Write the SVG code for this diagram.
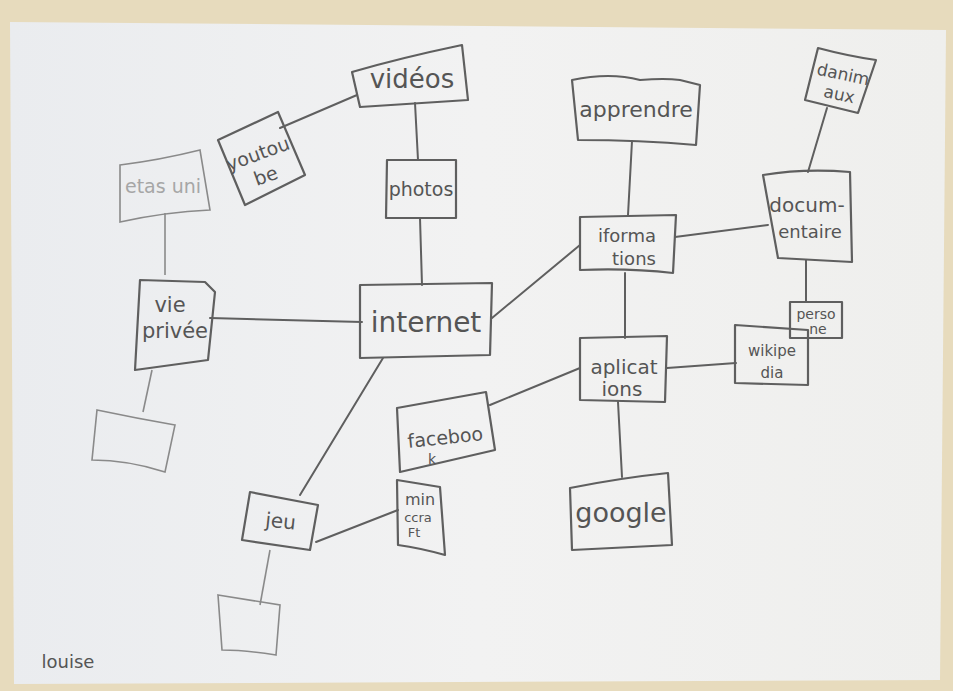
<svg xmlns="http://www.w3.org/2000/svg" width="953" height="691" viewBox="0 0 953 691">
<defs>
<linearGradient id="paper" x1="0" y1="0" x2="1" y2="0">
<stop offset="0" stop-color="#eaecef"/>
<stop offset="0.5" stop-color="#f2f2f2"/>
<stop offset="1" stop-color="#efefed"/>
</linearGradient>
<style>
.box{fill:none;stroke:#5f5f5f;stroke-width:2.2;stroke-linejoin:round}
.faint{fill:none;stroke:#8a8a8a;stroke-width:1.6}
.ln{fill:none;stroke:#5f5f5f;stroke-width:2;stroke-linecap:round}
.t{font-family:"DejaVu Sans",sans-serif;fill:#555;text-anchor:middle}
.tf{font-family:"DejaVu Sans",sans-serif;fill:#a6a6a6;text-anchor:middle}
</style>
</defs>
<rect width="953" height="691" fill="#e7dbbd"/>
<path d="M10,22 L946,30 L940,680 L14,684 Z" fill="url(#paper)"/>
<g id="connectors">
<path class="ln" d="M280,128 L357,95"/>
<path class="ln" d="M415,103 L418,160"/>
<path class="ln" d="M420,218 L422,285"/>
<path class="faint" d="M165,213 L165,275"/>
<path class="ln" d="M210,318 L362,322"/>
<path class="faint" d="M152,370 L143,412"/>
<path class="ln" d="M492,318 L580,245"/>
<path class="ln" d="M383,358 L300,495"/>
<path class="ln" d="M632,141 L628,215"/>
<path class="ln" d="M675,237 L768,225"/>
<path class="ln" d="M625,273 L625,338"/>
<path class="ln" d="M827,108 L808,172"/>
<path class="ln" d="M806,260 L806,302"/>
<path class="ln" d="M667,368 L736,363"/>
<path class="ln" d="M580,368 L490,405"/>
<path class="ln" d="M618,402 L622,477"/>
<path class="ln" d="M316,542 L398,510"/>
<path class="faint" d="M270,550 L260,605"/>
</g>
<g id="videos">
<path class="box" d="M352,72 Q400,58 462,45 L468,100 L360,107 Z"/>
<text class="t" x="412" y="88" font-size="26">vidéos</text>
</g>
<g id="youtube">
<path class="box" d="M218,140 L278,112 L305,175 L245,205 Z"/>
<text class="t" x="260" y="160" font-size="19" transform="rotate(-20 260 160)">youtou</text>
<text class="t" x="268" y="182" font-size="19" transform="rotate(-20 268 182)">be</text>
</g>
<g id="photos">
<path class="box" d="M387,160 L456,160 L456,218 L386,218 Z"/>
<text class="t" x="421" y="196" font-size="19">photos</text>
</g>
<g id="etats-unis">
<path class="faint" d="M120,165 Q160,160 200,150 L210,210 Q165,212 120,222 Z"/>
<text class="tf" x="163" y="193" font-size="19">etas uni</text>
</g>
<g id="vie-privee">
<path class="box" d="M140,280 L205,282 L215,292 L208,360 L135,370 Z"/>
<text class="t" x="170" y="312" font-size="21">vie</text>
<text class="t" x="175" y="338" font-size="21">privée</text>
</g>
<g id="empty-left">
<path class="faint" d="M97,410 Q135,418 175,425 L165,472 Q128,460 92,460 Z"/>
</g>
<g id="internet">
<path class="box" d="M360,285 L492,283 L490,355 L360,358 Z"/>
<text class="t" x="426" y="332" font-size="28">internet</text>
</g>
<g id="informations">
<path class="box" d="M580,217 L676,215 L673,273 Q630,268 580,270 Z"/>
<text class="t" x="627" y="242" font-size="18">iforma</text>
<text class="t" x="634" y="265" font-size="18">tions</text>
</g>
<g id="apprendre">
<path class="box" d="M572,80 Q610,72 640,80 Q665,78 680,80 L700,85 L696,145 Q640,140 578,140 Z"/>
<text class="t" x="636" y="117" font-size="22">apprendre</text>
</g>
<g id="animaux">
<path class="box" d="M818,48 Q848,56 876,60 L858,113 L805,100 Z"/>
<text class="t" x="842" y="80" font-size="17" transform="rotate(12 842 80)">danim</text>
<text class="t" x="838" y="100" font-size="17" transform="rotate(12 838 100)">aux</text>
</g>
<g id="documentaire">
<path class="box" d="M763,175 Q805,168 850,172 L852,262 Q815,260 778,258 Z"/>
<text class="t" x="807" y="212" font-size="20">docum-</text>
<text class="t" x="810" y="238" font-size="18">entaire</text>
</g>
<g id="personne">
<path class="box" d="M790,302 L842,302 L842,338 L790,338 Z"/>
<text class="t" x="816" y="319" font-size="14">perso</text>
<text class="t" x="818" y="334" font-size="14">ne</text>
</g>
<g id="wikipedia">
<path class="box" d="M735,325 L808,330 L808,385 L735,383 Z"/>
<text class="t" x="772" y="356" font-size="15">wikipe</text>
<text class="t" x="772" y="378" font-size="15">dia</text>
</g>
<g id="applications">
<path class="box" d="M580,338 L667,336 L665,402 L580,400 Z"/>
<text class="t" x="624" y="374" font-size="20">aplicat</text>
<text class="t" x="622" y="396" font-size="20">ions</text>
</g>
<g id="facebook">
<path class="box" d="M397,408 L486,392 L495,450 L400,472 Z"/>
<text class="t" x="446" y="444" font-size="19" transform="rotate(-6 446 444)">faceboo</text>
<text class="t" x="432" y="464" font-size="14">k</text>
</g>
<g id="google">
<path class="box" d="M570,488 Q620,478 668,473 L672,545 L572,550 Z"/>
<text class="t" x="621" y="522" font-size="27">google</text>
</g>
<g id="minecraft">
<path class="box" d="M397,480 L440,487 L445,555 Q420,548 398,545 Z"/>
<text class="t" x="420" y="505" font-size="16">min</text>
<text class="t" x="418" y="522" font-size="13">ccra</text>
<text class="t" x="414" y="537" font-size="13">Ft</text>
</g>
<g id="jeu">
<path class="box" d="M250,492 L318,505 L310,550 L242,540 Z"/>
<text class="t" x="280" y="528" font-size="20" transform="rotate(6 280 528)">jeu</text>
</g>
<g id="empty-bottom">
<path class="faint" d="M218,595 L280,605 L276,655 Q245,650 222,650 Z"/>
</g>
<text class="t" x="68" y="668" font-size="18">louise</text>
</svg>
